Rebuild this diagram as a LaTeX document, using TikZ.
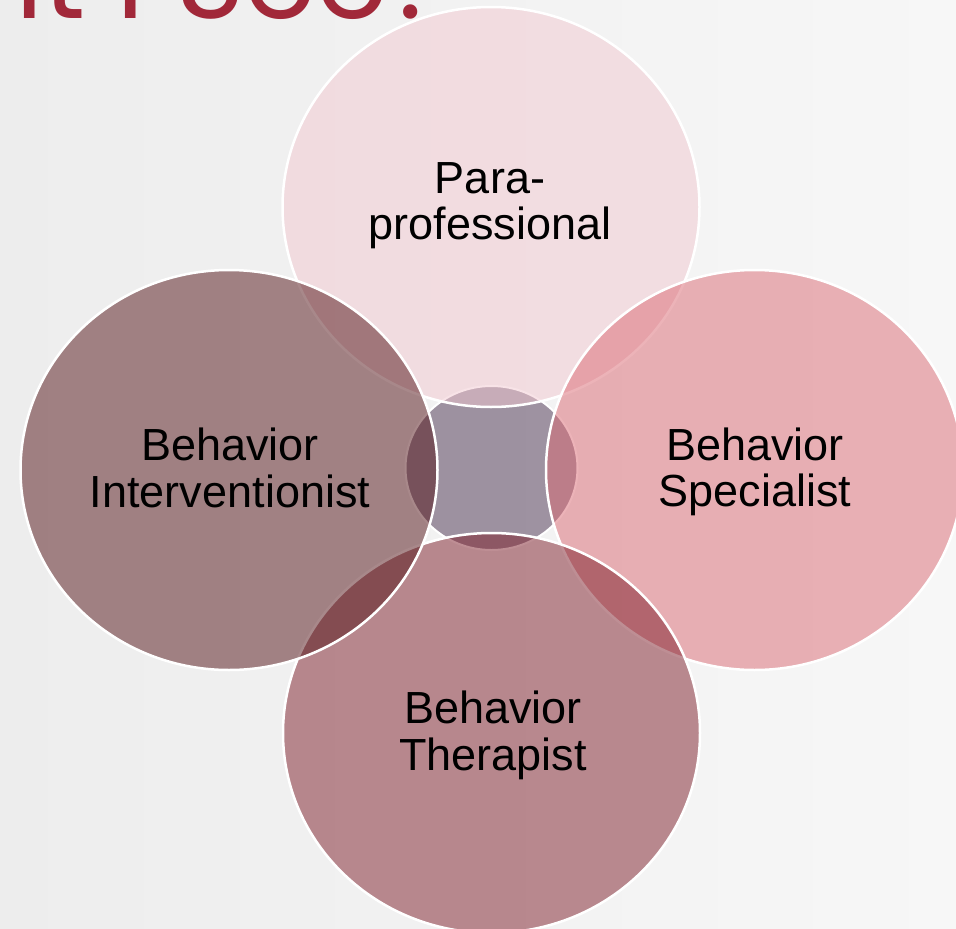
\documentclass[tikz,border=0pt]{standalone}
\usepackage{fontspec}
\setmainfont{Liberation Sans}
\newfontfamily\titlefont{Poppins}
\usetikzlibrary{shapes.geometric}
\definecolor{bgl}{HTML}{EDEDED}
\definecolor{bgr}{HTML}{F7F7F7}
\definecolor{titlered}{HTML}{A12839}
\definecolor{ccenter}{HTML}{4A3250}
\definecolor{ctop}{HTML}{F2C8D0}
\definecolor{cright}{HTML}{DB6973}
\definecolor{cbottom}{HTML}{7E1E2A}
\definecolor{cleft}{HTML}{531317}
\begin{document}
\begin{tikzpicture}[x=1pt,y=-1pt,
  bigcirc/.style={ellipse, draw=white, line width=2.5pt, fill opacity=0.5,
    minimum width=417pt, minimum height=400pt, inner sep=0pt},
  midcirc/.style={ellipse, draw=white, line width=2pt, fill opacity=0.5,
    minimum width=172pt, minimum height=164pt, inner sep=0pt},
  lbl/.style={anchor=base, inner sep=0pt, text=black,
    font=\fontsize{45}{46.5}\selectfont}]
\useasboundingbox (0,0) rectangle (956,929);
\clip (0,0) rectangle (956,929);
\shade[left color=bgl, right color=bgr] (0,0) rectangle (956,929);
\node[font=\titlefont\fontsize{116}{116}\selectfont, text=titlered,
  anchor=base west, inner sep=0pt] (title) at (15,18) {it I See?};
\node[midcirc, fill=ccenter] (cc) at (491.5,468) {};
\node[bigcirc, fill=ctop] (ct) at (491,207) {};
\node[bigcirc, fill=cright] (cr) at (754.5,470) {};
\node[bigcirc, fill=cbottom] (cb) at (491.5,733) {};
\node[bigcirc, fill=cleft] (cl) at (229,470) {};
\node[lbl] (lt) at (490,193.3) {\begin{tabular}[t]{@{}c@{}}Para-\\professional\end{tabular}};
\node[lbl] (ll) at (230,460.7) {\begin{tabular}[t]{@{}c@{}}Behavior\\Interventionist\end{tabular}};
\node[lbl] (lr) at (755,460.3) {\begin{tabular}[t]{@{}c@{}}Behavior\\Specialist\end{tabular}};
\node[lbl] (lb) at (493,723.5) {\begin{tabular}[t]{@{}c@{}}Behavior\\Therapist\end{tabular}};
\end{tikzpicture}
\end{document}
